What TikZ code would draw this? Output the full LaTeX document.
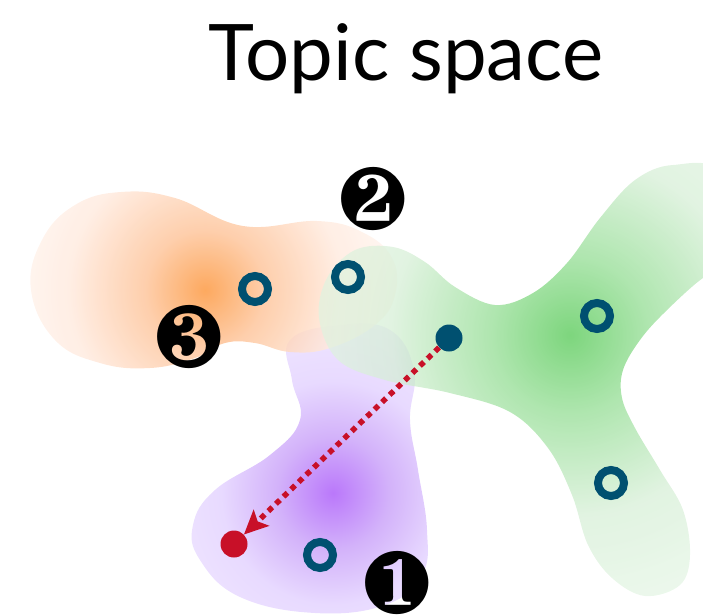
\documentclass[tikz,border=0pt]{standalone}
\usepackage{fontspec}
\setsansfont{Lato}
\usepackage{pifont}
\usetikzlibrary{arrows.meta}
\definecolor{tealC}{RGB}{0,80,112}
\definecolor{redC}{RGB}{200,16,40}
\definecolor{oH}{RGB}{252,150,60}
\definecolor{oM}{RGB}{254,196,154}
\definecolor{oE}{RGB}{255,234,222}
\definecolor{oX}{RGB}{255,246,241}
\definecolor{gH}{RGB}{70,196,70}
\definecolor{gM}{RGB}{141,219,141}
\definecolor{gE}{RGB}{212,238,212}
\definecolor{gX}{RGB}{228,245,228}
\definecolor{pH}{RGB}{186,120,250}
\definecolor{pM}{RGB}{211,178,250}
\definecolor{pE}{RGB}{232,218,255}
\definecolor{pX}{RGB}{242,234,255}
\pgfdeclareradialshading{oshade}{\pgfpoint{0bp}{0bp}}{color(0bp)=(oH); color(7.5bp)=(oM); color(17bp)=(oE); color(25bp)=(oX); color(50bp)=(oX)}
\pgfdeclareradialshading{gshade}{\pgfpoint{0bp}{0bp}}{color(0bp)=(gH); color(7bp)=(gM); color(16bp)=(gE); color(25bp)=(gX); color(50bp)=(gX)}
\pgfdeclareradialshading{pshade}{\pgfpoint{0bp}{0bp}}{color(0bp)=(pH); color(7bp)=(pM); color(14bp)=(pE); color(25bp)=(pX); color(50bp)=(pX)}
\tikzset{
  ring/.style={circle, draw=tealC, line width=8pt, minimum size=26pt, inner sep=0pt},
  dotT/.style={circle, fill=tealC, minimum size=27pt, inner sep=0pt},
  dotR/.style={circle, fill=redC, minimum size=27pt, inner sep=0pt},
  badge/.style={inner sep=0pt, font=\fontsize{88}{88}\selectfont},
  move/.style={redC, line width=5.5pt, dash pattern=on 5.5pt off 5pt,
    -{Stealth[length=24pt,width=22pt,inset=5pt]}}
}
\begin{document}
\begin{tikzpicture}[x=1pt,y=-1pt]
\useasboundingbox (0,0) rectangle (703,615);
\clip (0,0) rectangle (703,615);
% purple blob
\begin{scope}
\clip plot[smooth cycle, tension=0.7] coordinates {(290,340) (340,325) (390,330) (414,370) (410,420) (418,470) (427,530) (422,575) (385,605) (315,613) (240,597) (200,560) (193,525) (215,490) (270,455) (300,420) (292,380)};
\shade[shading=pshade] (333,493) circle (200pt);
\end{scope}
% orange blob
\begin{scope}
\clip plot[smooth cycle, tension=0.7] coordinates {(31,290) (42,240) (75,205) (121,192) (175,198) (243,226) (317,221) (362,232) (392,258) (395,295) (375,325) (330,348) (290,352) (255,343) (225,343) (195,358) (150,368) (100,363) (55,340)};
\shade[shading=oshade, fill opacity=0.82] (205,290) circle (200pt);
\end{scope}
% green blob
\begin{scope}
\clip plot[smooth cycle, tension=0.6] coordinates {(673,165) (720,175) (720,275) (703,278) (665,312) (640,340) (623,370) (622,398) (635,428) (660,470) (683,510) (690,555) (680,585) (645,596) (612,578) (588,545) (572,495) (548,448) (510,412) (450,393) (385,380) (338,360) (319,318) (327,278) (355,250) (393,247) (425,262) (455,287) (495,305) (533,293) (567,263) (600,218) (635,180)};
\shade[shading=gshade, fill opacity=0.7] (570,335) circle (280pt);
\end{scope}
% title
\node[font=\sffamily\fontsize{78}{78}\selectfont, anchor=base] (title) at (406,81) {Topic space};
% points
\node[ring] (r1) at (255,289) {};
\node[ring] (r2) at (348,277) {};
\node[ring] (r3) at (597,316) {};
\node[ring] (r4) at (611,483) {};
\node[ring] (r5) at (320,555) {};
\node[dotT] (src) at (449,338) {};
\node[dotR] (dst) at (234,544) {};
\draw[move] (src) -- (dst);
% badges
\node[badge] (b1) at (397,583) {\ding{182}};
\node[badge] (b2) at (373,199) {\ding{183}};
\node[badge] (b3) at (189,337) {\ding{184}};
\end{tikzpicture}
\end{document}
